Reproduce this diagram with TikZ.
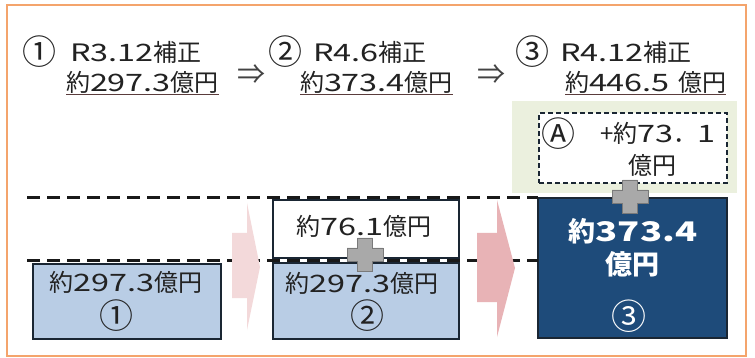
\documentclass[tikz,border=0pt]{standalone}
\usepackage{fontspec}
\setmainfont{Noto Sans CJK JP}
\newfontfamily\jpwide{Noto Sans CJK JP}[FakeStretch=1.35]
\newcommand\W[1]{{\jpwide #1}}
\definecolor{ink}{HTML}{222222}
\definecolor{frame}{HTML}{F4A46C}
\definecolor{lblue}{HTML}{B9CDE5}
\definecolor{dblue}{HTML}{1E4B7A}
\definecolor{edge}{HTML}{1A2633}
\definecolor{grn}{HTML}{EBF0DE}
\definecolor{pinkA}{HTML}{F3D9DA}
\definecolor{pinkB}{HTML}{E8B3B6}
\definecolor{plusfill}{HTML}{A9A9A9}
\definecolor{plusdraw}{HTML}{7A7A7A}
\definecolor{ulc}{HTML}{5A3C3C}
\tikzset{
  plussign/.pic={\filldraw[fill=plusfill,draw=plusdraw,line width=0.8]
    (-7.5,-16.5) -- (7.5,-16.5) -- (7.5,-6.5) -- (18,-6.5) -- (18,6.5) -- (7.5,6.5)
    -- (7.5,16.5) -- (-7.5,16.5) -- (-7.5,6.5) -- (-18,6.5) -- (-18,-6.5) -- (-7.5,-6.5) -- cycle;}
}
\begin{document}
\begin{tikzpicture}[x=1pt,y=-1pt,
  every node/.style={inner sep=0pt,outer sep=0pt},
  ttl/.style={font=\fontsize{24}{28}\selectfont,text=ink,anchor=base west},
  circ/.style={font=\fontsize{34}{38}\selectfont,text=ink,anchor=center},
  dbl/.style={font=\fontsize{28}{32}\selectfont,text=ink!85,anchor=center},
  ul/.style={draw=ulc,line width=1.2},
  lbox/.style={draw=edge,fill=lblue,line width=1.5},
  wbox/.style={draw=edge,fill=white,line width=1.5},
  dbox/.style={draw=edge,fill=dblue,line width=1.5},
  gbox/.style={fill=grn},
  dashbox/.style={draw=edge,fill=white,dashed,dash pattern=on 5pt off 3pt,line width=1.3},
  hdash/.style={draw=black!90,line width=3,dash pattern=on 13pt off 7pt},
  btxt/.style={font=\fontsize{24}{28}\selectfont,text=ink,anchor=center},
  bcirc/.style={font=\fontsize{34}{38}\selectfont,text=ink,anchor=center},
  wtxt/.style={font=\fontsize{27}{30}\bfseries,text=white,anchor=center},
  wcirc/.style={font=\fontsize{35}{38}\selectfont,text=white,anchor=center}
]
\useasboundingbox (0,0) rectangle (755,358);
\fill[white] (0,0) rectangle (755,358);
\draw[frame,line width=1.6] (7,5) rectangle (746,356);

% titles
\node[circ] (c1) at (40,52) {①};
\node[ttl] (t1) at (70,62) {\W{R3.12}補正};
\node[ttl] (v1) at (66,92) {約\W{297.3}億円};
\draw[ul] ([yshift=-2.5pt]v1.base west) -- ([yshift=-2.5pt]v1.base east);
\node[dbl] (a1) at (251,75) {⇒};
\node[circ] (c2) at (285,52) {②};
\node[ttl] (t2) at (313,62) {\W{R4.6}補正};
\node[ttl] (v2) at (300,92) {約\W{373.4}億円};
\draw[ul] ([yshift=-2.5pt]v2.base west) -- ([yshift=-2.5pt]v2.base east);
\node[dbl] (a2) at (491,75) {⇒};
\node[circ] (c3) at (532,52) {③};
\node[ttl] (t3) at (560,62) {\W{R4.12}補正};
\node[ttl] (v3) at (565,92) {約\W{446.5}\hspace{3pt} 億円};
\draw[ul] ([yshift=-2.5pt]v3.base west) -- ([yshift=-2.5pt]v3.base east);

% green area and dashed box
\node[gbox,minimum width=225,minimum height=92] (g) at (624.5,147) {};
\node[dashbox,minimum width=188,minimum height=70] (dA) at (633,148) {};

% boxes
\node[lbox,minimum width=188,minimum height=75] (b1) at (127,301.5) {};
\node[wbox,minimum width=186,minimum height=58] (b2w) at (366,229) {};
\node[lbox,minimum width=186,minimum height=76] (b2) at (366,301) {};
\node[dbox,minimum width=189,minimum height=140] (b3) at (632.5,268) {};

% dashed level lines
\coordinate (L1) at (27,198);
\coordinate (L2) at (27,260);
\draw[hdash] (L1) -- (b3.north west);
\draw[hdash] (L2) -- (L2 -| b3.west);

% pink arrows
\fill[pinkA] (232,233) -- (247,233) -- (247,203) -- (260,267) -- (247,330) -- (247,298) -- (232,298) -- cycle;
\fill[pinkB] (477,233) -- (497,233) -- (497,200) -- (515,268) -- (497,337) -- (497,302) -- (477,302) -- cycle;

% plus signs
\pic at (365,254.5) {plussign};
\pic at (630,196.5) {plussign};

% box texts
\node[btxt] (b1t) at (126,282) {約\W{297.3}億円};
\node[bcirc] (b1c) at (116,316) {①};
\node[btxt] (b2wt) at (364,226) {約\W{76.1}億円};
\node[btxt] (b2t) at (362,283) {約\W{297.3}億円};
\node[bcirc] (b2c) at (367,316) {②};
\node[wtxt] (b3t) at (633,231) {約\W{373.4}};
\node[wtxt] (b3u) at (632,264) {億円};
\node[wcirc] (b3c) at (629,316) {③};
\node[bcirc] (Ac) at (558,134) {Ⓐ};
\node[ttl] (At) at (600,143) {+約\W{73}．\W{1}};
\node[btxt] (Au) at (652,165) {億円};
\end{tikzpicture}
\end{document}
